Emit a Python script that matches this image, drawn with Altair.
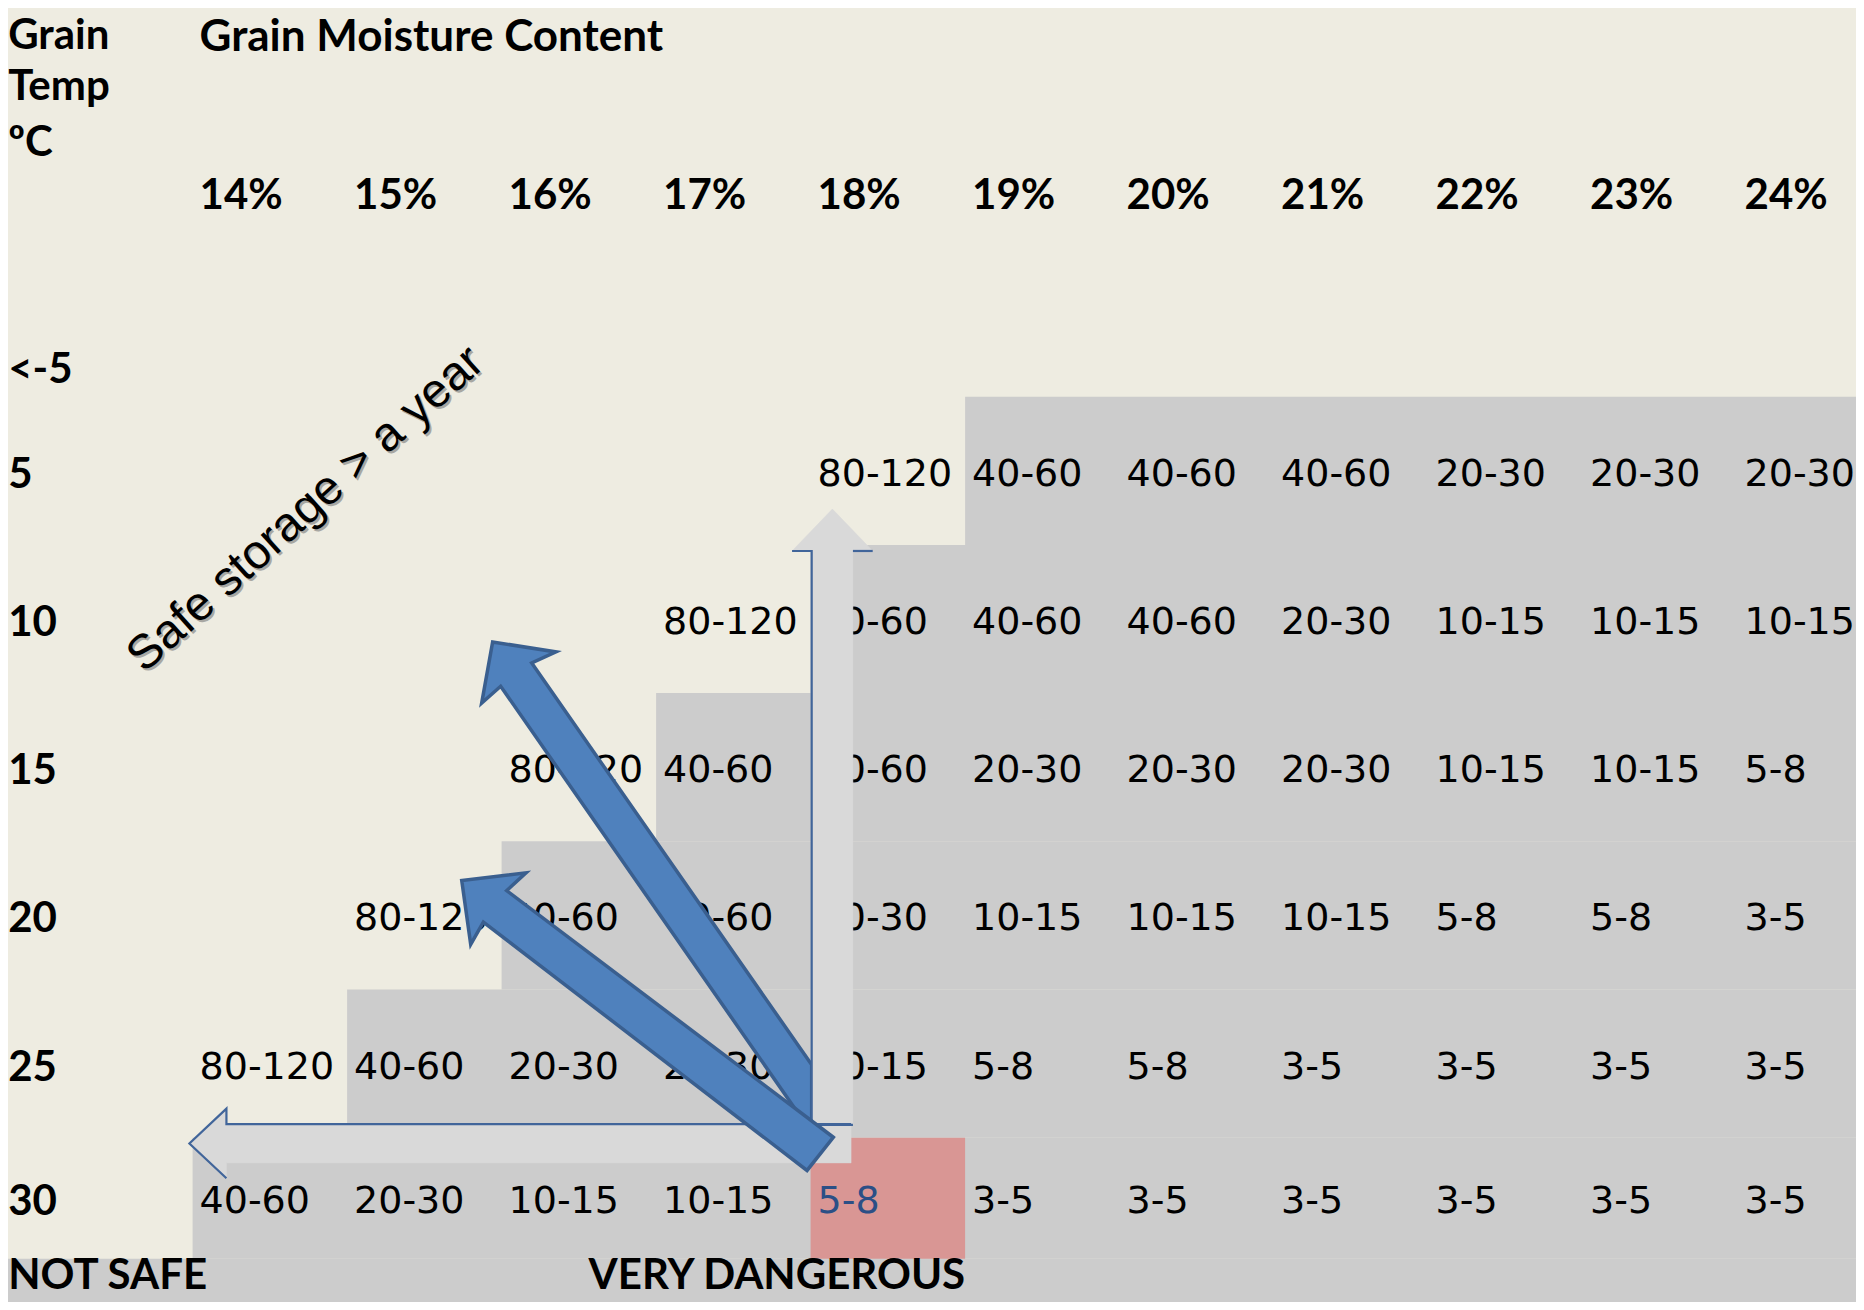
import altair as alt
import pandas as pd

# ---------------- data ----------------
moisture = ["14%", "15%", "16%", "17%", "18%", "19%", "20%", "21%", "22%", "23%", "24%"]
temps = ["5", "10", "15", "20", "25", "30"]
top_temp = "<-5"
# storage time per grain temperature (rows) and moisture content (columns); "" = safe > a year
storage = [
    ["", "", "", "", "80-120", "40-60", "40-60", "40-60", "20-30", "20-30", "20-30"],
    ["", "", "", "80-120", "40-60", "40-60", "40-60", "20-30", "10-15", "10-15", "10-15"],
    ["", "", "80-120", "40-60", "40-60", "20-30", "20-30", "20-30", "10-15", "10-15", "5-8"],
    ["", "80-120", "40-60", "40-60", "20-30", "10-15", "10-15", "10-15", "5-8", "5-8", "3-5"],
    ["80-120", "40-60", "20-30", "20-30", "10-15", "5-8", "5-8", "3-5", "3-5", "3-5", "3-5"],
    ["40-60", "20-30", "10-15", "10-15", "5-8", "3-5", "3-5", "3-5", "3-5", "3-5", "3-5"],
]
highlight = ("30", "18%")
safe_value = "80-120"

# ---------------- layout (column units / row units) ----------------
U0, U1 = -1.1948, 10.7663
V0, V1 = -2.6228, 6.1086
row_h = [1, 1, 1, 1, 1, 0.8165]
row_top = [0, 1, 2, 3, 4, 5]
TXT_DX = 0.045
TXT_DY = 4
TOP_V = -2.464
TITLE_V = -2.448
BOTTOM_V = 5.906

xs = alt.Scale(domain=[U0, U1], nice=False, zero=False)
ys = alt.Scale(domain=[V0, V1], nice=False, zero=False, reverse=True)

def X(f, **kw):
    return alt.X(f, scale=xs, axis=None, **kw)

def Y(f, **kw):
    return alt.Y(f, scale=ys, axis=None, **kw)

# grey "not safe" bands per row
bands = []
for r, t in enumerate(temps):
    first = next(k for k, v in enumerate(storage[r]) if v and v != safe_value)
    bands.append({"x": first, "x2": U1, "y": row_top[r], "y2": row_top[r] + row_h[r]})
bands.append({"x": U0, "x2": U1, "y": row_top[-1] + row_h[-1], "y2": V1})
bands_df = pd.DataFrame(bands)

hr = temps.index(highlight[0])
hk = moisture.index(highlight[1])
pink_df = pd.DataFrame([{"x": hk, "x2": hk + 1, "y": row_top[hr], "y2": row_top[hr] + row_h[hr]}])

cells = []
for r, t in enumerate(temps):
    for k, m in enumerate(moisture):
        v = storage[r][k]
        if v:
            cells.append({"x": k + TXT_DX, "y": row_top[r] + row_h[r] / 2, "label": v,
                          "hl": (t, m) == highlight})
cells_df = pd.DataFrame(cells)

bg = (alt.Chart(bands_df).mark_rect(color="#CCCCCC", clip=True)
      .encode(x=X("x:Q"), x2="x2", y=Y("y:Q"), y2="y2"))
pink = (alt.Chart(pink_df).mark_rect(color="#D99694")
        .encode(x=X("x:Q"), x2="x2", y=Y("y:Q"), y2="y2"))

val_font = dict(font="DejaVu Sans", fontSize=38, align="left", baseline="middle", dy=TXT_DY)
vals = (alt.Chart(cells_df[~cells_df.hl]).mark_text(color="#000000", **val_font)
        .encode(x=X("x:Q"), y=Y("y:Q"), text="label:N"))
vals_hl = (alt.Chart(cells_df[cells_df.hl]).mark_text(color="#2B4F86", **val_font)
           .encode(x=X("x:Q"), y=Y("y:Q"), text="label:N"))

# headers
head = []
for k, m in enumerate(moisture):
    head.append({"x": k + TXT_DX, "y": -1.384, "label": m})
for lab, yy in [("Grain", TOP_V), ("Temp", -2.117), ("ºC", -1.739), (top_temp, -0.207)]:
    head.append({"x": U0 + 0.001, "y": yy, "label": lab})
for r, t in enumerate(temps):
    head.append({"x": U0 + 0.001, "y": row_top[r] + row_h[r] / 2, "label": t})
head.append({"x": U0 + 0.001, "y": BOTTOM_V, "label": "NOT SAFE"})
head_df = pd.DataFrame(head)
head_font = dict(font="Lato", fontWeight="bold", baseline="middle", color="#000000", dy=TXT_DY)
head_l = (alt.Chart(head_df).mark_text(fontSize=42, align="left", **head_font)
          .encode(x=X("x:Q"), y=Y("y:Q"), text="label:N"))
title_t = (alt.Chart(pd.DataFrame([{"x": TXT_DX, "y": TITLE_V, "label": "Grain Moisture Content"}]))
           .mark_text(fontSize=44, align="left", **head_font)
           .encode(x=X("x:Q"), y=Y("y:Q"), text="label:N"))
head_r = (alt.Chart(pd.DataFrame([{"x": 5, "y": BOTTOM_V, "label": "VERY DANGEROUS"}]))
          .mark_text(fontSize=42, align="right", **head_font)
          .encode(x=X("x:Q"), y=Y("y:Q"), text="label:N"))

safe_df = pd.DataFrame([{"x": 0.734, "y": 0.760, "label": "Safe storage > a year"}])
safe_sh = (alt.Chart(safe_df).mark_text(font="Liberation Sans", fontSize=48, angle=318,
                                        align="center", baseline="middle", color="#6F6F6F",
                                        opacity=0.55, dy=3)
           .encode(x=X("x:Q"), y=Y("y:Q"), text="label:N"))
safe_t = (alt.Chart(safe_df).mark_text(font="Liberation Sans", fontSize=48, angle=318,
                                       align="center", baseline="middle", color="#000000")
          .encode(x=X("x:Q"), y=Y("y:Q"), text="label:N"))

# arrows (polygons in column/row units)
def poly(pts):
    return pd.DataFrame([{"i": i, "x": p[0], "y": p[1]} for i, p in enumerate(pts)])

long_arrow = poly([(4.007, 4.508), (2.195, 1.797), (2.352, 1.722), (1.942, 1.655),
                   (1.871, 2.068), (1.994, 1.954), (4.007, 4.966)])
short_arrow = poly([(4.147, 4.997), (2.033, 3.333), (2.158, 3.213), (1.742, 3.264),
                    (1.800, 3.695), (1.882, 3.545), (3.977, 5.221)])
up_arrow = poly([(4.007, 4.914), (4.007, 1.041), (3.880, 1.041), (4.141, 0.758),
                 (4.402, 1.041), (4.274, 1.041), (4.274, 4.914)])
left_arrow = poly([(4.262, 4.908), (0.219, 4.908), (0.219, 4.804), (-0.0207, 5.039),
                   (0.219, 5.274), (0.219, 5.170), (4.262, 5.170)])

outline_rows = []
for g, pts in enumerate([
        [(3.880, 1.041), (4.007, 1.041), (4.007, 4.914), (4.274, 4.914)],
        [(4.274, 1.041), (4.402, 1.041)],
        [(4.262, 4.908), (0.219, 4.908), (0.219, 4.804), (-0.0207, 5.039), (0.219, 5.274)]]):
    for i, p in enumerate(pts):
        outline_rows.append({"g": g, "i": i, "x": p[0], "y": p[1]})
outline_df = pd.DataFrame(outline_rows)

def fill_poly(df, fill, stroke=None, sw=0):
    kw = dict(interpolate="linear-closed", fill=fill, fillOpacity=1)
    if stroke:
        kw.update(stroke=stroke, strokeWidth=sw, strokeJoin="miter")
    else:
        kw.update(stroke=fill, strokeWidth=0.5)
    return (alt.Chart(df).mark_line(**kw)
            .encode(x=X("x:Q"), y=Y("y:Q"), order=alt.Order("i:Q")))

blue_long = fill_poly(long_arrow, "#4F81BD", "#3A5F8F", 3.5)
grey_up = fill_poly(up_arrow, "#D9D9D9")
grey_left = fill_poly(left_arrow, "#D9D9D9")
outlines = (alt.Chart(outline_df).mark_line(color="#41659A", strokeWidth=2.2)
            .encode(x=X("x:Q"), y=Y("y:Q"), detail="g:N", order=alt.Order("i:Q")))
blue_short = fill_poly(short_arrow, "#4F81BD", "#3A5F8F", 3.5)

chart = (alt.layer(bg, pink, vals, vals_hl, head_l, title_t, head_r, safe_sh, safe_t,
                   blue_long, grey_left, grey_up, outlines, blue_short)
         .properties(width=1848, height=1294, padding=0, background="#EEECE1",
                     autosize=alt.AutoSizeParams(type="none"))
         .configure_view(stroke=None))

chart.save("out.html", embed_options={"renderer": "svg", "actions": False})
